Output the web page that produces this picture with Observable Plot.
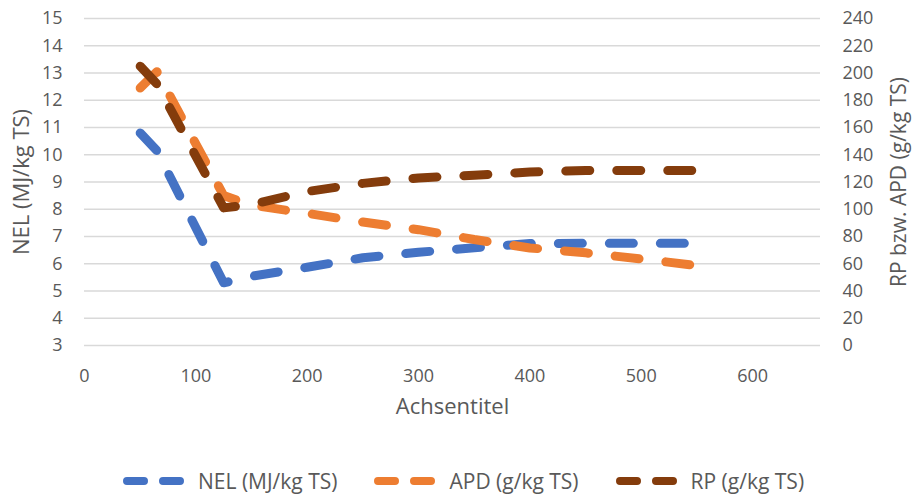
<!DOCTYPE html>
<html>
<head>
<meta charset="utf-8">
<script src="https://cdn.jsdelivr.net/npm/d3@7"></script>
<script src="https://cdn.jsdelivr.net/npm/@observablehq/plot@0.6"></script>
<style>
  body { margin: 0; background: #fff; font-family: "Open Sans", sans-serif; }
  #wrap { position: relative; width: 912px; height: 495px; overflow: hidden; }
  #legend { position: absolute; left: 123px; top: 467px; height: 28px; display: flex; align-items: center;
            font-size: 21px; color: #595959; white-space: nowrap; }
  .item { display: flex; align-items: center; margin-right: 37px; }
  .item svg { margin-right: 13px; }
</style>
</head>
<body>
<div id="wrap"><div id="chart"></div><div id="legend"></div></div>
<script>
// ---- data ----
const xValues   = [50, 65, 125, 150, 200, 250, 300, 350, 400, 450, 500, 550];
const nelValues = [10.8, 10.15, 5.3, 5.54, 5.87, 6.22, 6.42, 6.59, 6.74, 6.75, 6.75, 6.75];
const apdValues = [189, 201, 110, 103, 97, 90.6, 85, 77.8, 71.6, 68, 63.5, 58.7];
const rpValues  = [205, 192, 101, 103.5, 113, 119, 123, 125, 127.3, 128.4, 128.4, 128.4];

const seriesNames  = ["NEL (MJ/kg TS)", "APD (g/kg TS)", "RP (g/kg TS)"];
const seriesColors = ["#4472C4", "#ED7D31", "#843C0C"];

const leftTicks  = [3, 4, 5, 6, 7, 8, 9, 10, 11, 12, 13, 14, 15];
const rightTicks = [0, 20, 40, 60, 80, 100, 120, 140, 160, 180, 200, 220, 240];
const xTicks     = [0, 100, 200, 300, 400, 500, 600];

const xTitle      = "Achsentitel";
const yLeftTitle  = "NEL (MJ/kg TS)";
const yRightTitle = "RP bzw. APD (g/kg TS)";

// secondary axis (0–240) mapped onto primary (3–15)
const toPrimary = v => v / 20 + 3;

const nelData = xValues.map((x, i) => ({x, y: nelValues[i]}));
const apdData = xValues.map((x, i) => ({x, y: toPrimary(apdValues[i])}));
const rpData  = xValues.map((x, i) => ({x, y: toPrimary(rpValues[i])}));

const lineStyle = {x: "x", y: "y", strokeWidth: 9, strokeLinecap: "round", strokeLinejoin: "round", strokeDasharray: "24,27"};

const plot = Plot.plot({
  width: 912,
  height: 460,
  marginTop: 18,
  marginBottom: 115,
  marginLeft: 84,
  marginRight: 92,
  style: {fontFamily: '"Open Sans", sans-serif', fontSize: "18px", color: "#595959", background: "white", overflow: "visible"},
  x: {domain: [0, 661]},
  y: {domain: [3, 15]},
  marks: [
    Plot.gridY(leftTicks, {stroke: "#D9D9D9", strokeOpacity: 1, strokeWidth: 1.3}),
    Plot.axisX(xTicks, {tickSize: 0, tickPadding: 24, label: null, fill: "#595959"}),
    Plot.axisY(leftTicks, {anchor: "left", tickSize: 0, tickPadding: 22, label: null, fill: "#595959"}),
    Plot.axisY(leftTicks, {anchor: "right", tickSize: 0, tickPadding: 22, label: null, fill: "#595959",
                           tickFormat: (d) => rightTicks[leftTicks.indexOf(d)]}),
    Plot.line(nelData, {...lineStyle, stroke: seriesColors[0]}),
    Plot.line(apdData, {...lineStyle, stroke: seriesColors[1]}),
    Plot.line(rpData,  {...lineStyle, stroke: seriesColors[2]}),
    Plot.text([xTitle], {text: d => d, frameAnchor: "bottom", textAnchor: "middle", dy: 68, fontSize: 22, fill: "#595959"}),
    Plot.text([yLeftTitle], {text: d => d, frameAnchor: "left", textAnchor: "middle", dx: -63, rotate: -90, fontSize: 22, fill: "#595959"}),
    Plot.text([yRightTitle], {text: d => d, frameAnchor: "right", textAnchor: "middle", dx: 79, rotate: -90, fontSize: 21, fill: "#595959"})
  ]
});
document.getElementById("chart").appendChild(plot);

// legend
const legend = d3.select("#legend");
seriesNames.forEach((name, i) => {
  const item = legend.append("div").attr("class", "item");
  const svg = item.append("svg").attr("width", 62).attr("height", 12);
  svg.append("line")
    .attr("x1", 4).attr("x2", 58).attr("y1", 6).attr("y2", 6)
    .attr("stroke", seriesColors[i]).attr("stroke-width", 8)
    .attr("stroke-linecap", "round").attr("stroke-dasharray", "17,19");
  item.append("span").text(name);
});
</script>
</body>
</html>
